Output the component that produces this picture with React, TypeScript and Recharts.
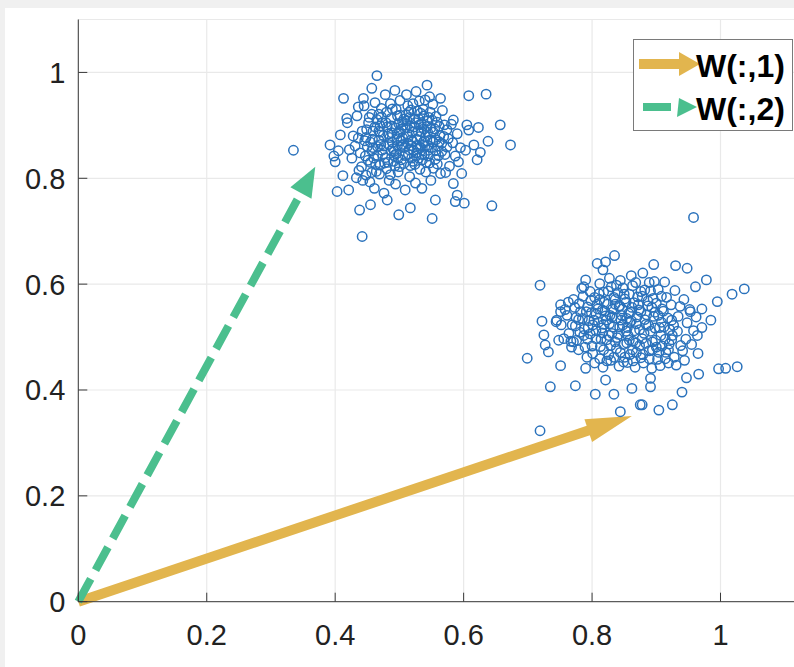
import React from "react";
import {
  ScatterChart,
  Scatter,
  XAxis,
  YAxis,
  CartesianGrid,
  ReferenceLine,
  Legend,
} from "recharts";

// tick positions
const xTicks = [0, 0.2, 0.4, 0.6, 0.8, 1];
const yTicks = [0, 0.2, 0.4, 0.6, 0.8, 1];

// the two weight vectors drawn as arrows from the origin
const w1 = [0.862, 0.351];
const w2 = [0.369, 0.822];
const seriesNames = ["W(:,1)", "W(:,2)"];

// upper-left cluster
const cluster1: [number, number][] = [
  [0.465, 0.994], [0.413, 0.951], [0.392, 0.863], [0.4, 0.831], [0.403, 0.775],
  [0.421, 0.778], [0.438, 0.74], [0.455, 0.75], [0.481, 0.759], [0.499, 0.731],
  [0.517, 0.744], [0.442, 0.69], [0.444, 0.951], [0.457, 0.97], [0.436, 0.935],
  [0.418, 0.913], [0.408, 0.882], [0.335, 0.853], [0.608, 0.956], [0.635, 0.959],
  [0.657, 0.901], [0.673, 0.863], [0.638, 0.87], [0.623, 0.896], [0.605, 0.901],
  [0.608, 0.891], [0.616, 0.863], [0.626, 0.849], [0.621, 0.835], [0.603, 0.853],
  [0.584, 0.91], [0.564, 0.951], [0.644, 0.748], [0.601, 0.753], [0.587, 0.756],
  [0.59, 0.768], [0.556, 0.759], [0.551, 0.724], [0.584, 0.79], [0.597, 0.809],
  [0.592, 0.831], [0.543, 0.976], [0.405, 0.852], [0.398, 0.842], [0.412, 0.805],
  [0.452, 0.905], [0.468, 0.921], [0.481, 0.897], [0.495, 0.93], [0.507, 0.912],
  [0.521, 0.941], [0.534, 0.903], [0.548, 0.925], [0.512, 0.884], [0.489, 0.868],
  [0.473, 0.853], [0.458, 0.874], [0.442, 0.889], [0.431, 0.861], [0.447, 0.842],
  [0.463, 0.826], [0.478, 0.839], [0.492, 0.851], [0.503, 0.835], [0.518, 0.862],
  [0.527, 0.848], [0.539, 0.871], [0.553, 0.887], [0.566, 0.866], [0.574, 0.892],
  [0.561, 0.843], [0.547, 0.829], [0.532, 0.817], [0.516, 0.803], [0.498, 0.812],
  [0.484, 0.796], [0.469, 0.808], [0.454, 0.793], [0.437, 0.815], [0.426, 0.838],
  [0.441, 0.822], [0.459, 0.858], [0.475, 0.881], [0.487, 0.913], [0.501, 0.947],
  [0.515, 0.925], [0.529, 0.889], [0.543, 0.908], [0.557, 0.917], [0.571, 0.845],
  [0.583, 0.867], [0.578, 0.823], [0.564, 0.809], [0.549, 0.796], [0.535, 0.781],
  [0.521, 0.832], [0.508, 0.858], [0.496, 0.884], [0.483, 0.864], [0.47, 0.899],
  [0.457, 0.921], [0.445, 0.937], [0.462, 0.943], [0.478, 0.958], [0.493, 0.966],
  [0.511, 0.958], [0.526, 0.964], [0.54, 0.948], [0.528, 0.927], [0.517, 0.899],
  [0.505, 0.876], [0.491, 0.832], [0.48, 0.818], [0.466, 0.843], [0.45, 0.86],
  [0.436, 0.876], [0.422, 0.854], [0.433, 0.801], [0.448, 0.806], [0.461, 0.781],
  [0.476, 0.772], [0.494, 0.789], [0.509, 0.778], [0.525, 0.791], [0.541, 0.812],
  [0.556, 0.852], [0.569, 0.879], [0.587, 0.842], [0.595, 0.858], [0.581, 0.902],
  [0.567, 0.928], [0.552, 0.94], [0.537, 0.93], [0.523, 0.912], [0.51, 0.92],
  [0.499, 0.903], [0.486, 0.941], [0.472, 0.932], [0.459, 0.889], [0.446, 0.871],
  [0.439, 0.848], [0.455, 0.83], [0.471, 0.864], [0.488, 0.886], [0.503, 0.893],
  [0.519, 0.873], [0.533, 0.858], [0.545, 0.842], [0.559, 0.827], [0.572, 0.811],
  [0.544, 0.862], [0.53, 0.838], [0.514, 0.845], [0.5, 0.822], [0.486, 0.807],
  [0.47, 0.825], [0.457, 0.811], [0.443, 0.796], [0.428, 0.88], [0.419, 0.905],
  [0.434, 0.918], [0.449, 0.892], [0.465, 0.911], [0.48, 0.925], [0.497, 0.918],
  [0.513, 0.937], [0.531, 0.946], [0.547, 0.954], [0.562, 0.898], [0.576, 0.875],
  [0.59, 0.884], [0.504, 0.862], [0.492, 0.843], [0.522, 0.853], [0.538, 0.893],
  [0.455, 0.868], [0.462, 0.897], [0.468, 0.872], [0.474, 0.845], [0.479, 0.905],
  [0.485, 0.877], [0.49, 0.856], [0.494, 0.895], [0.498, 0.838], [0.502, 0.871],
  [0.506, 0.9], [0.509, 0.843], [0.513, 0.866], [0.516, 0.915], [0.52, 0.887],
  [0.524, 0.826], [0.527, 0.874], [0.531, 0.901], [0.535, 0.845], [0.538, 0.918],
  [0.541, 0.879], [0.545, 0.853], [0.549, 0.895], [0.552, 0.868], [0.556, 0.836],
  [0.559, 0.906], [0.563, 0.881], [0.566, 0.851], [0.57, 0.901], [0.574, 0.859],
  [0.451, 0.834], [0.457, 0.852], [0.464, 0.813], [0.47, 0.887], [0.476, 0.861],
  [0.482, 0.83], [0.488, 0.899], [0.493, 0.823], [0.497, 0.862], [0.501, 0.919],
  [0.507, 0.828], [0.511, 0.896], [0.515, 0.854], [0.519, 0.838], [0.523, 0.897],
  [0.527, 0.862], [0.532, 0.879], [0.536, 0.835], [0.54, 0.861], [0.544, 0.887],
  [0.548, 0.873], [0.553, 0.819], [0.557, 0.873], [0.562, 0.869], [0.468, 0.889],
  [0.473, 0.905], [0.487, 0.852], [0.496, 0.875], [0.505, 0.907], [0.514, 0.878],
  [0.518, 0.929], [0.525, 0.905], [0.529, 0.855], [0.533, 0.923], [0.537, 0.868],
  [0.542, 0.83], [0.546, 0.915], [0.55, 0.858], [0.555, 0.893], [0.56, 0.861],
  [0.448, 0.877], [0.453, 0.915], [0.46, 0.838], [0.466, 0.86], [0.472, 0.916],
  [0.477, 0.829], [0.483, 0.884], [0.489, 0.931], [0.495, 0.846], [0.5, 0.888],
  [0.506, 0.864], [0.512, 0.909], [0.517, 0.824], [0.521, 0.869], [0.526, 0.842],
  [0.53, 0.912], [0.534, 0.888], [0.539, 0.845], [0.543, 0.898], [0.551, 0.91],
];

// lower-right cluster
const cluster2: [number, number][] = [
  [0.719, 0.598], [0.835, 0.654], [0.808, 0.639], [0.821, 0.642], [0.817, 0.627],
  [0.79, 0.608], [0.787, 0.595], [0.722, 0.53], [0.751, 0.561], [0.745, 0.532],
  [0.725, 0.504], [0.727, 0.485], [0.732, 0.472], [0.699, 0.46], [0.751, 0.446],
  [0.735, 0.406], [0.774, 0.408], [0.805, 0.392], [0.834, 0.392], [0.821, 0.419],
  [0.844, 0.359], [0.719, 0.323], [0.862, 0.403], [0.875, 0.372], [0.771, 0.491],
  [0.748, 0.494], [0.79, 0.441], [0.958, 0.726], [0.896, 0.637], [0.93, 0.635],
  [0.948, 0.63], [0.978, 0.608], [0.961, 0.595], [1.037, 0.591], [1.018, 0.581],
  [0.995, 0.567], [0.971, 0.553], [0.985, 0.532], [0.953, 0.548], [0.971, 0.518],
  [0.964, 0.503], [0.965, 0.469], [1.026, 0.444], [1.008, 0.441], [0.997, 0.44],
  [0.966, 0.43], [0.947, 0.423], [0.94, 0.396], [0.925, 0.372], [0.904, 0.362],
  [0.878, 0.372], [0.891, 0.406], [0.891, 0.422],
  [0.782, 0.548], [0.795, 0.531], [0.808, 0.562], [0.821, 0.54], [0.834, 0.575],
  [0.847, 0.553], [0.859, 0.528], [0.872, 0.561], [0.885, 0.542], [0.898, 0.517],
  [0.911, 0.549], [0.924, 0.532], [0.937, 0.558], [0.916, 0.575], [0.903, 0.59],
  [0.889, 0.603], [0.876, 0.586], [0.863, 0.597], [0.85, 0.581], [0.838, 0.598],
  [0.825, 0.587], [0.811, 0.582], [0.798, 0.569], [0.786, 0.577], [0.773, 0.556],
  [0.761, 0.541], [0.769, 0.523], [0.781, 0.509], [0.793, 0.496], [0.806, 0.512],
  [0.818, 0.524], [0.831, 0.507], [0.843, 0.519], [0.856, 0.503], [0.868, 0.489],
  [0.881, 0.507], [0.894, 0.491], [0.907, 0.503], [0.92, 0.487], [0.933, 0.511],
  [0.946, 0.496], [0.941, 0.474], [0.928, 0.462], [0.915, 0.471], [0.902, 0.458],
  [0.889, 0.474], [0.876, 0.461], [0.863, 0.476], [0.851, 0.462], [0.838, 0.478],
  [0.826, 0.467], [0.813, 0.482], [0.801, 0.469], [0.789, 0.481], [0.776, 0.494],
  [0.764, 0.507], [0.752, 0.523], [0.758, 0.552], [0.771, 0.571], [0.784, 0.592],
  [0.797, 0.586], [0.812, 0.601], [0.827, 0.611], [0.844, 0.607], [0.861, 0.616],
  [0.879, 0.621], [0.895, 0.573], [0.908, 0.528], [0.921, 0.514], [0.934, 0.539],
  [0.948, 0.527], [0.952, 0.552], [0.943, 0.571], [0.929, 0.588], [0.913, 0.604],
  [0.898, 0.547], [0.884, 0.524], [0.87, 0.538], [0.857, 0.545], [0.845, 0.532],
  [0.832, 0.553], [0.819, 0.566], [0.806, 0.543], [0.793, 0.557], [0.779, 0.533],
  [0.767, 0.492], [0.779, 0.476], [0.792, 0.462], [0.804, 0.451], [0.817, 0.443],
  [0.829, 0.456], [0.842, 0.445], [0.855, 0.452], [0.867, 0.443], [0.88, 0.451],
  [0.893, 0.441], [0.906, 0.446], [0.919, 0.451], [0.931, 0.447], [0.944, 0.456],
  [0.955, 0.486], [0.958, 0.512], [0.962, 0.538], [0.866, 0.512], [0.878, 0.577],
  [0.853, 0.566], [0.84, 0.584], [0.827, 0.525], [0.814, 0.496], [0.801, 0.523],
  [0.788, 0.515], [0.775, 0.537], [0.763, 0.566], [0.751, 0.548], [0.744, 0.529],
  [0.756, 0.497], [0.768, 0.481], [0.823, 0.495], [0.836, 0.491], [0.849, 0.486],
  [0.861, 0.531], [0.874, 0.514], [0.887, 0.559], [0.9, 0.564], [0.912, 0.519],
  [0.925, 0.503], [0.938, 0.484], [0.891, 0.587], [0.868, 0.603], [0.816, 0.551],
  [0.785, 0.535], [0.791, 0.548], [0.797, 0.506], [0.803, 0.532], [0.809, 0.553],
  [0.815, 0.517], [0.82, 0.549], [0.826, 0.503], [0.831, 0.538], [0.836, 0.562],
  [0.841, 0.505], [0.846, 0.541], [0.851, 0.572], [0.855, 0.518], [0.86, 0.547],
  [0.864, 0.492], [0.869, 0.525], [0.873, 0.551], [0.878, 0.497], [0.882, 0.533],
  [0.887, 0.568], [0.891, 0.511], [0.896, 0.539], [0.9, 0.481], [0.905, 0.518],
  [0.909, 0.553], [0.914, 0.496], [0.918, 0.536], [0.923, 0.561], [0.927, 0.522],
  [0.8, 0.483], [0.806, 0.497], [0.812, 0.459], [0.818, 0.476], [0.823, 0.455],
  [0.829, 0.484], [0.834, 0.462], [0.839, 0.499], [0.844, 0.471], [0.849, 0.453],
  [0.854, 0.489], [0.859, 0.467], [0.864, 0.455], [0.869, 0.471], [0.874, 0.484],
  [0.879, 0.467], [0.884, 0.488], [0.889, 0.459], [0.894, 0.476], [0.899, 0.494],
  [0.904, 0.471], [0.909, 0.483], [0.914, 0.459], [0.919, 0.476], [0.924, 0.495],
  [0.812, 0.571], [0.818, 0.585], [0.824, 0.562], [0.83, 0.595], [0.836, 0.571],
  [0.842, 0.558], [0.848, 0.593], [0.854, 0.535], [0.858, 0.581], [0.865, 0.565],
  [0.871, 0.576], [0.876, 0.548], [0.882, 0.589], [0.888, 0.522], [0.893, 0.556],
  [0.897, 0.605], [0.903, 0.541], [0.908, 0.577], [0.774, 0.521], [0.78, 0.563],
  [0.787, 0.503], [0.794, 0.518], [0.799, 0.546], [0.804, 0.575], [0.81, 0.528],
  [0.816, 0.508], [0.822, 0.532], [0.828, 0.541], [0.833, 0.519], [0.838, 0.536],
  [0.843, 0.559], [0.848, 0.523], [0.853, 0.511], [0.858, 0.494], [0.862, 0.556],
];

const GOLD = "#e2b54e";
const GREEN = "#4bbf8e";
const BLUE = "#2a72bc";
const FONT = "'Liberation Sans', Arial, Helvetica, sans-serif";
const AXIS = "#3a3a3a";

const points = [...cluster1, ...cluster2].map(([x, y]) => ({ x, y }));

const Circle = (props: any) => (
  <circle cx={props.cx} cy={props.cy} r={4.7} fill="none" stroke={BLUE} strokeWidth={1.5} />
);

// inward ticks like matlab
const XTick = (props: any) => {
  const { x, y, payload } = props;
  return (
    <g>
      <line x1={x} y1={y} x2={x} y2={y - 9} stroke={AXIS} strokeWidth={1} />
      <text x={x} y={y + 43} textAnchor="middle" fontSize={29} fontFamily={FONT} fill="#222">
        {String(payload.value)}
      </text>
    </g>
  );
};

const YTick = (props: any) => {
  const { x, y, payload } = props;
  return (
    <g>
      <line x1={x} y1={y} x2={x + 9} y2={y} stroke={AXIS} strokeWidth={1} />
      <text x={x - 13} y={y + 10.5} textAnchor="end" fontSize={29} fontFamily={FONT} fill="#222">
        {String(payload.value)}
      </text>
    </g>
  );
};

const makeArrow = (color: string, width: number, headLen: number, headHalf: number, dash?: string) =>
  (props: any) => {
    const { x1, y1, x2, y2 } = props;
    const dx = x2 - x1;
    const dy = y2 - y1;
    const len = Math.sqrt(dx * dx + dy * dy);
    const ux = dx / len;
    const uy = dy / len;
    const bx = x2 - ux * headLen;
    const by = y2 - uy * headLen;
    const px = -uy * headHalf;
    const py = ux * headHalf;
    return (
      <g>
        <line
          x1={x1}
          y1={y1}
          x2={bx + ux * 4}
          y2={by + uy * 4}
          stroke={color}
          strokeWidth={width}
          strokeDasharray={dash}
        />
        <polygon points={`${x2},${y2} ${bx + px},${by + py} ${bx - px},${by - py}`} fill={color} />
      </g>
    );
  };

const LegendBox = () => (
  <svg width={161} height={93} style={{ display: "block" }}>
    <rect x={0.5} y={0.5} width={159} height={91} fill="#fff" stroke="#7a7a7a" strokeWidth={1} />
    <line x1={6} y1={25} x2={50} y2={25} stroke={GOLD} strokeWidth={10} />
    <polygon points="67,25 46,13 46,37" fill={GOLD} />
    <text x={63} y={38} fontSize={32} fontWeight="bold" fontFamily={FONT} fill="#000">
      {seriesNames[0]}
    </text>
    <line x1={10} y1={68} x2={38} y2={68} stroke={GREEN} strokeWidth={8} />
    <polygon points="64,68 46,59 44,78" fill={GREEN} />
    <text x={63} y={81} fontSize={32} fontWeight="bold" fontFamily={FONT} fill="#000">
      {seriesNames[1]}
    </text>
  </svg>
);

export default function App() {
  return (
    <div
      style={{
        position: "absolute",
        left: 0,
        top: 0,
        width: 794,
        height: 667,
        overflow: "hidden",
        background: "#f0f0f0",
      }}
    >
      <div style={{ position: "absolute", left: 5, top: 8, right: 0, bottom: 0, background: "#fff" }} />
      <div style={{ position: "absolute", left: 0, top: 0 }}>
        <ScatterChart width={804} height={667} margin={{ top: 19.5, right: 0, bottom: 0, left: 0 }}>
          <CartesianGrid stroke="#e9e9e9" strokeWidth={1.2} />
          <XAxis
            type="number"
            dataKey="x"
            domain={[0, 1.13]}
            ticks={xTicks}
            interval={0}
            allowDataOverflow
            height={65.3}
            tickSize={0}
            tickMargin={0}
            tickLine={false}
            axisLine={{ stroke: AXIS, strokeWidth: 1 }}
            tick={XTick}
          />
          <YAxis
            type="number"
            dataKey="y"
            domain={[0, 1.1]}
            ticks={yTicks}
            interval={0}
            allowDataOverflow
            width={78.3}
            tickSize={0}
            tickMargin={0}
            tickLine={false}
            axisLine={{ stroke: AXIS, strokeWidth: 1 }}
            tick={YTick}
          />
          <Scatter data={points} shape={Circle} isAnimationActive={false} />
          <ReferenceLine
            segment={[{ x: 0, y: 0 }, { x: w1[0], y: w1[1] }]}
            ifOverflow="visible"
            shape={makeArrow(GOLD, 10, 46, 12)}
          />
          <ReferenceLine
            segment={[{ x: 0, y: 0 }, { x: w2[0], y: w2[1] }]}
            ifOverflow="visible"
            shape={makeArrow(GREEN, 8, 30, 12, "26 10")}
          />
          <Legend
            layout="horizontal"
            verticalAlign="middle"
            align="center"
            content={LegendBox}
            wrapperStyle={{ position: "absolute", left: 633, top: 39, width: 161, height: 93 }}
          />
        </ScatterChart>
      </div>
    </div>
  );
}
